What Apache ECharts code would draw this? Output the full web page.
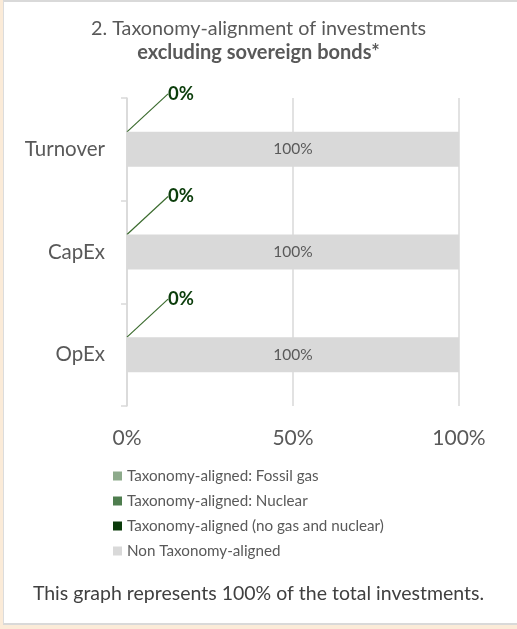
<!DOCTYPE html>
<html>
<head>
<meta charset="utf-8">
<title>Taxonomy-alignment</title>
<script src="https://cdn.jsdelivr.net/npm/echarts@6/dist/echarts.min.js"></script>
<style>
    html,body{margin:0;padding:0;}
    body{width:517px;height:629px;background:#fbebd8;position:relative;overflow:hidden;}
    /*白色面板*/
    #panel{position:absolute;left:3px;top:0;width:514px;height:621px;background:#fff;
        border-top:2px solid #d9d9d9;border-left:1px solid #dcdcdc;border-bottom:2px solid #d9d9d9;box-sizing:content-box;}
    #main{position:absolute;left:0;top:0;width:517px;height:629px;}
</style>
</head>
<body>
<div id="panel"></div>
<div id="main"></div>
<script>
var categories = ['Turnover', 'CapEx', 'OpEx'];
var fossilGas = [0, 0, 0];
var nuclear = [0, 0, 0];
var alignedOther = [0, 0, 0];
var nonAligned = [1, 1, 1];
var xTicks = [0, 0.5, 1];

var textColor = '#595959';

/*百分比格式*/
function pct(v){
    return Math.round(v * 100) + '%';
}

function taxonomyChart(el){
    var _thisChart = echarts.init(document.getElementById(el));
    _thisChart.setOption({
        animation: false,
        textStyle: {fontFamily: 'Lato'},
        title: {
            left: 'center',
            top: 14,
            text: '2. Taxonomy-alignment of investments',
            subtext: 'excluding sovereign bonds*',
            itemGap: 4,
            textStyle: {fontSize: 19.8, fontWeight: 'normal', color: textColor, fontFamily: 'Lato'},
            subtextStyle: {fontSize: 20, fontWeight: 'bold', color: textColor, fontFamily: 'Lato'}
        },
        legend: {
            orient: 'vertical',
            left: 108,
            top: 463,
            itemWidth: 9,
            itemHeight: 9,
            itemGap: 9,
            icon: 'rect',
            textStyle: {fontSize: 15.2, lineHeight: 16, color: textColor},
            data: ['Taxonomy-aligned: Fossil gas', 'Taxonomy-aligned: Nuclear',
                'Taxonomy-aligned (no gas and nuclear)', 'Non Taxonomy-aligned']
        },
        graphic: [{
            type: 'text',
            left: 'center',
            top: 584,
            style: {text: 'This graph represents 100% of the total investments.', fontSize: 19.5, fill: '#404040', fontFamily: 'Lato'}
        }],
        grid: {left: 127, right: 58, top: 98, bottom: 223, containLabel: false},
        xAxis: {
            type: 'value',
            min: xTicks[0],
            max: xTicks[xTicks.length - 1],
            interval: xTicks[1] - xTicks[0],
            axisLine: {show: false},
            axisTick: {show: false},
            axisLabel: {formatter: pct, fontSize: 21, color: textColor, margin: 22},
            splitLine: {show: true, lineStyle: {color: '#d9d9d9', width: 1.5}}
        },
        yAxis: {
            type: 'category',
            inverse: true,
            data: categories,
            axisLine: {show: true, lineStyle: {color: '#d9d9d9', width: 1.5}},
            axisTick: {show: true, length: 6, lineStyle: {color: '#d9d9d9', width: 1.5}},
            axisLabel: {fontSize: 20.5, color: textColor, margin: 22}
        },
        series: [
            {name: 'Taxonomy-aligned: Fossil gas', type: 'bar', stack: 'total', barWidth: 35,
                itemStyle: {color: '#8daa8b'}, data: fossilGas},
            {name: 'Taxonomy-aligned: Nuclear', type: 'bar', stack: 'total', barWidth: 35,
                itemStyle: {color: '#4e7d4e'}, data: nuclear},
            {name: 'Taxonomy-aligned (no gas and nuclear)', type: 'bar', stack: 'total', barWidth: 35,
                itemStyle: {color: '#0b3b0b'}, data: alignedOther,
                label: {
                    show: true,
                    position: 'insideLeft',
                    formatter: function(p){ return pct(p.value); },
                    fontSize: 18.5, fontWeight: 'bold', color: '#0b3d0b'
                },
                /*标签外移并加引导线*/
                labelLayout: function(params){
                    return {
                        x: params.rect.x + 54,
                        y: params.rect.y - 38,
                        align: 'center',
                        verticalAlign: 'middle'
                    };
                },
                labelLine: {show: true, lineStyle: {color: '#3b6b2e', width: 1.2}}
            },
            {name: 'Non Taxonomy-aligned', type: 'bar', stack: 'total', barWidth: 35,
                itemStyle: {color: '#d9d9d9'}, data: nonAligned,
                label: {
                    show: true,
                    position: 'inside',
                    formatter: function(p){ return pct(p.value); },
                    fontSize: 15.5, color: textColor
                }
            }
        ]
    });
}

taxonomyChart('main');
</script>
</body>
</html>
